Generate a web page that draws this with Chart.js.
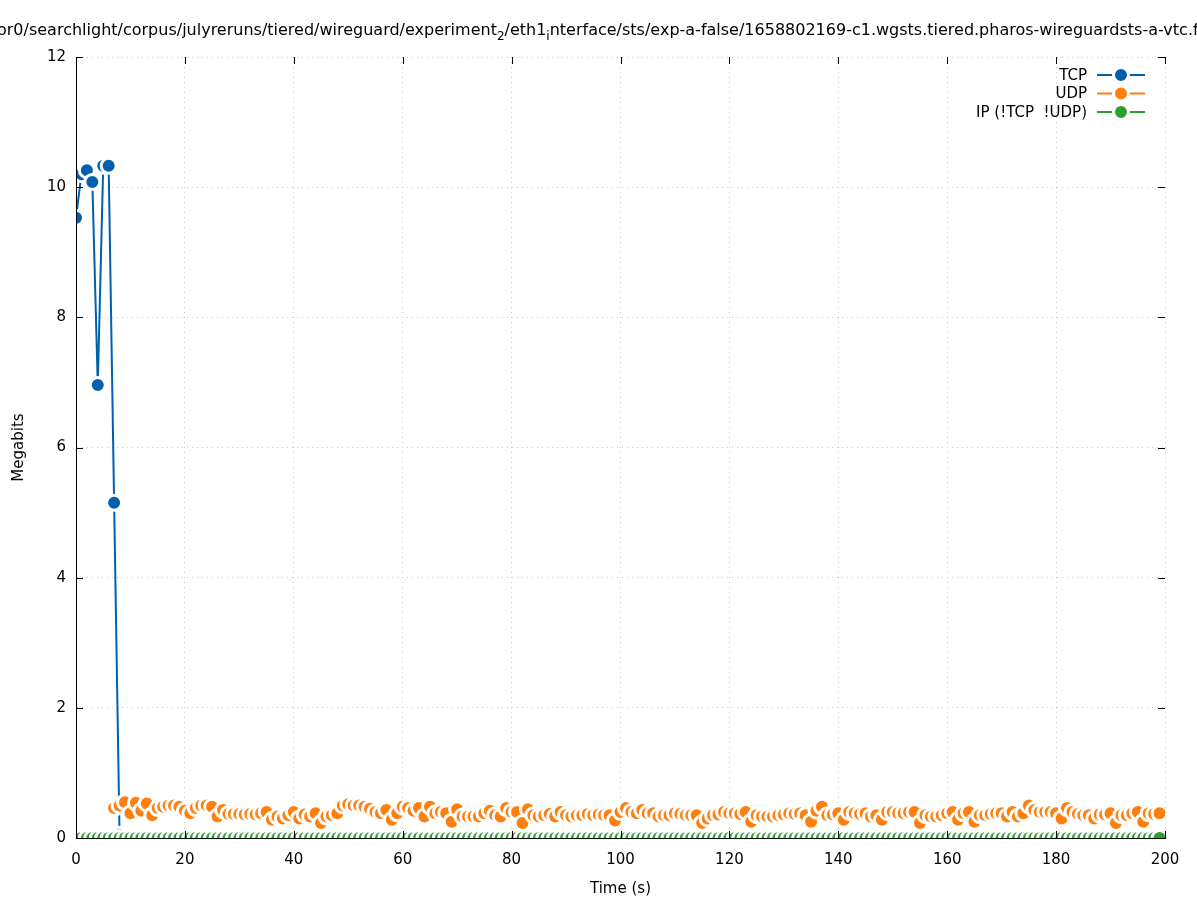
<!DOCTYPE html>
<html>
<head>
<meta charset="utf-8">
<script src="https://cdn.jsdelivr.net/npm/chart.js@4.4.1/dist/chart.umd.min.js"></script>
<style>
  html, body { margin: 0; padding: 0; background: #fff; }
  #chart { display: block; }
</style>
</head>
<body>
<canvas id="chart" width="1197" height="900"></canvas>
<script>
// seconds since start
const seconds = [
  0, 1, 2, 3, 4, 5, 6, 7, 8, 9, 10, 11, 12, 13, 14, 15, 16, 17, 18, 19,
  20, 21, 22, 23, 24, 25, 26, 27, 28, 29, 30, 31, 32, 33, 34, 35, 36, 37, 38, 39,
  40, 41, 42, 43, 44, 45, 46, 47, 48, 49, 50, 51, 52, 53, 54, 55, 56, 57, 58, 59,
  60, 61, 62, 63, 64, 65, 66, 67, 68, 69, 70, 71, 72, 73, 74, 75, 76, 77, 78, 79,
  80, 81, 82, 83, 84, 85, 86, 87, 88, 89, 90, 91, 92, 93, 94, 95, 96, 97, 98, 99,
  100, 101, 102, 103, 104, 105, 106, 107, 108, 109, 110, 111, 112, 113, 114, 115, 116, 117, 118, 119,
  120, 121, 122, 123, 124, 125, 126, 127, 128, 129, 130, 131, 132, 133, 134, 135, 136, 137, 138, 139,
  140, 141, 142, 143, 144, 145, 146, 147, 148, 149, 150, 151, 152, 153, 154, 155, 156, 157, 158, 159,
  160, 161, 162, 163, 164, 165, 166, 167, 168, 169, 170, 171, 172, 173, 174, 175, 176, 177, 178, 179,
  180, 181, 182, 183, 184, 185, 186, 187, 188, 189, 190, 191, 192, 193, 194, 195, 196, 197, 198, 199
];

// Megabits per second, TCP only in the first seconds
const tcp = [9.53, 10.2, 10.26, 10.08, 6.96, 10.33, 10.33, 5.15, 0.05, 0];

const udp = [
  null, null, null, null, null, null, null,
  .46, .5, .55, .38, .54, .42, .53, .35, .46, .48,
  .5, .5, .48, .42, .38, .46, .5, .5, .48, .33,
  .43, .37, .37, .37, .36, .37, .36, .38, .4, .28,
  .33, .3, .35, .4, .3, .36, .33, .38, .23, .33,
  .35, .38, .5, .52, .5, .5, .48, .45, .4, .38,
  .43, .28, .38, .48, .46, .42, .46, .33, .48, .38,
  .4, .38, .25, .44, .33, .33, .33, .33, .38, .42,
  .35, .33, .46, .4, .4, .23, .44, .35, .33, .35,
  .37, .33, .4, .35, .33, .35, .35, .37, .35, .36,
  .35, .35, .27, .4, .46, .4, .38, .43, .38, .38,
  .33, .35, .35, .38, .37, .35, .35, .35, .23, .3,
  .35, .36, .4, .38, .38, .37, .4, .25, .35, .33,
  .33, .33, .35, .36, .38, .37, .38, .35, .25, .42,
  .48, .35, .36, .38, .28, .4, .38, .37, .38, .33,
  .35, .28, .4, .4, .38, .38, .4, .4, .23, .35,
  .33, .33, .35, .38, .4, .28, .38, .4, .25, .35,
  .35, .37, .38, .38, .33, .4, .33, .38, .5, .43,
  .4, .4, .4, .38, .3, .46, .4, .37, .35, .35,
  .3, .36, .36, .38, .23, .35, .35, .38, .4, .25,
  .38, .37, .38
];

const ipOther = [
  0, 0, 0, 0, 0, 0, 0, 0, 0, 0, 0, 0, 0, 0, 0, 0, 0, 0, 0, 0,
  0, 0, 0, 0, 0, 0, 0, 0, 0, 0, 0, 0, 0, 0, 0, 0, 0, 0, 0, 0,
  0, 0, 0, 0, 0, 0, 0, 0, 0, 0, 0, 0, 0, 0, 0, 0, 0, 0, 0, 0,
  0, 0, 0, 0, 0, 0, 0, 0, 0, 0, 0, 0, 0, 0, 0, 0, 0, 0, 0, 0,
  0, 0, 0, 0, 0, 0, 0, 0, 0, 0, 0, 0, 0, 0, 0, 0, 0, 0, 0, 0,
  0, 0, 0, 0, 0, 0, 0, 0, 0, 0, 0, 0, 0, 0, 0, 0, 0, 0, 0, 0,
  0, 0, 0, 0, 0, 0, 0, 0, 0, 0, 0, 0, 0, 0, 0, 0, 0, 0, 0, 0,
  0, 0, 0, 0, 0, 0, 0, 0, 0, 0, 0, 0, 0, 0, 0, 0, 0, 0, 0, 0,
  0, 0, 0, 0, 0, 0, 0, 0, 0, 0, 0, 0, 0, 0, 0, 0, 0, 0, 0, 0,
  0, 0, 0, 0, 0, 0, 0, 0, 0, 0, 0, 0, 0, 0, 0, 0, 0, 0, 0, 0
];

const seriesNames = ["TCP", "UDP", "IP (!TCP  !UDP)"];
const seriesColors = ["#0060ad", "#ff7f0e", "#2ca02c"];

const titleParts = [
  ["or0/searchlight/corpus/julyreruns/tiered/wireguard/experiment", false],
  ["2", true],
  ["/eth1", false],
  ["i", true],
  ["nterface/sts/exp-a-false/1658802169-c1.wgsts.tiered.pharos-wireguardsts-a-vtc.f", false]
];

const FONT = "DejaVu Sans, sans-serif";

function toPoints(values) {
  const pts = [];
  values.forEach((v, i) => {
    if (v !== null) pts.push({ x: seconds[i], y: v });
  });
  return pts;
}

// dot of radius ~6 with a white halo out to ~9 (gnuplot look)
function makeDataset(idx, values, order) {
  return {
    label: seriesNames[idx],
    data: toPoints(values),
    borderColor: seriesColors[idx],
    backgroundColor: seriesColors[idx],
    borderWidth: 2,
    pointRadius: 7.5,
    pointBorderWidth: 3,
    pointBorderColor: "#ffffff",
    pointBackgroundColor: seriesColors[idx],
    tension: 0,
    order: order
  };
}

const titlePlugin = {
  id: "gpTitle",
  afterDraw(chart) {
    const ctx = chart.ctx;
    ctx.save();
    ctx.fillStyle = "#000";
    ctx.textBaseline = "alphabetic";
    ctx.textAlign = "left";
    let x = -3;
    titleParts.forEach(([txt, sub]) => {
      ctx.font = (sub ? "12px " : "16px ") + FONT;
      ctx.fillText(txt, x, sub ? 40 : 35);
      x += ctx.measureText(txt).width;
    });
    ctx.restore();
  }
};

// axis lines on top of the data, plus inward mirrored ticks
const ticksPlugin = {
  id: "gpTicks",
  afterDraw(chart) {
    const ctx = chart.ctx;
    const a = chart.chartArea;
    const xs = chart.scales.x, ys = chart.scales.y;
    ctx.save();
    ctx.strokeStyle = "#000";
    ctx.lineWidth = 1;
    ctx.beginPath();
    ctx.moveTo(a.left + 0.5, a.top);
    ctx.lineTo(a.left + 0.5, a.bottom + 0.5);
    ctx.lineTo(a.right, a.bottom + 0.5);
    xs.ticks.forEach(t => {
      const px = Math.round(xs.getPixelForValue(t.value)) + 0.5;
      ctx.moveTo(px, a.bottom); ctx.lineTo(px, a.bottom - 7);
      ctx.moveTo(px, a.top); ctx.lineTo(px, a.top + 7);
    });
    ys.ticks.forEach(t => {
      const py = Math.round(ys.getPixelForValue(t.value)) + 0.5;
      ctx.moveTo(a.left, py); ctx.lineTo(a.left + 7, py);
      ctx.moveTo(a.right, py); ctx.lineTo(a.right - 7, py);
    });
    ctx.stroke();
    ctx.restore();
  }
};

const legendPlugin = {
  id: "gpLegend",
  afterDraw(chart) {
    const ctx = chart.ctx;
    ctx.save();
    ctx.font = "15px " + FONT;
    ctx.textAlign = "right";
    ctx.textBaseline = "middle";
    const rowsY = [75, 93.5, 112];
    seriesNames.forEach((name, i) => {
      const y = rowsY[i];
      ctx.fillStyle = "#000";
      ctx.fillText(name, 1087, y + 1);
      ctx.strokeStyle = seriesColors[i];
      ctx.lineWidth = 2;
      ctx.beginPath();
      ctx.moveTo(1097, y); ctx.lineTo(1145, y);
      ctx.stroke();
      ctx.beginPath();
      ctx.arc(1121, y, 7.5, 0, Math.PI * 2);
      ctx.fillStyle = seriesColors[i];
      ctx.fill();
      ctx.strokeStyle = "#fff";
      ctx.lineWidth = 3;
      ctx.stroke();
    });
    ctx.restore();
  }
};

new Chart(document.getElementById("chart"), {
  type: "line",
  data: {
    datasets: [
      makeDataset(0, tcp, 3),
      makeDataset(1, udp, 2),
      makeDataset(2, ipOther, 1)
    ]
  },
  options: {
    responsive: false,
    animation: false,
    events: [],
    layout: { padding: { top: 57, right: 32, left: 0, bottom: 0 } },
    plugins: {
      legend: { display: false },
      title: { display: false },
      tooltip: { enabled: false }
    },
    scales: {
      x: {
        type: "linear",
        min: 0,
        max: 200,
        ticks: {
          stepSize: 20,
          color: "#000",
          font: { family: FONT, size: 15 },
          padding: 13,
          maxRotation: 0
        },
        grid: { color: "#c8c8c8", lineWidth: 1, drawTicks: false },
        border: { color: "#000", width: 1, dash: [1, 4] },
        title: {
          display: true,
          text: "Time (s)",
          color: "#000",
          font: { family: FONT, size: 15 },
          padding: { top: 0, bottom: 2 }
        },
        afterFit(scale) { scale.height = 62; }
      },
      y: {
        min: 0,
        max: 12,
        ticks: {
          stepSize: 2,
          color: "#000",
          font: { family: FONT, size: 15 },
          padding: 10
        },
        grid: { color: "#c8c8c8", lineWidth: 1, drawTicks: false },
        border: { color: "#000", width: 1, dash: [1, 4] },
        title: {
          display: true,
          text: "Megabits",
          color: "#000",
          font: { family: FONT, size: 15 },
          padding: { top: 10, bottom: 0 }
        },
        afterFit(scale) { scale.width = 76; }
      }
    }
  },
  plugins: [titlePlugin, ticksPlugin, legendPlugin]
});
</script>
</body>
</html>
